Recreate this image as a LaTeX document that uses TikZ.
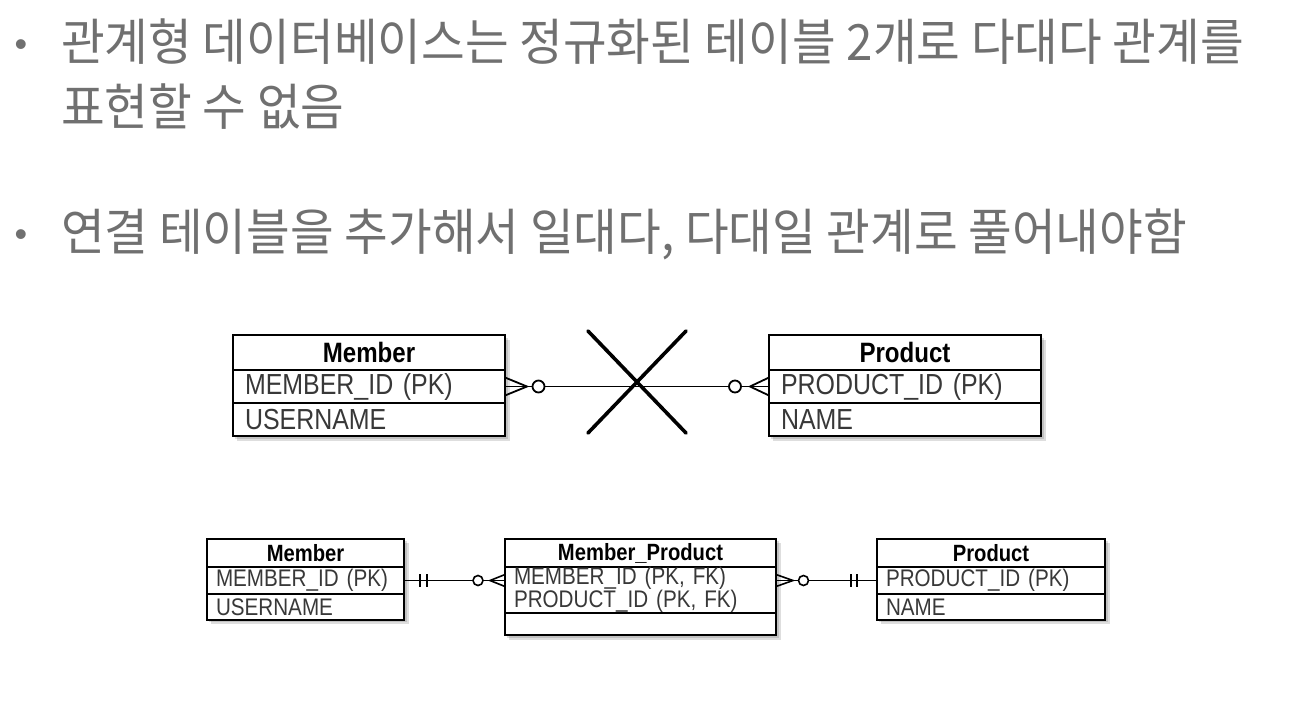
\documentclass[tikz,border=0pt]{standalone}
\usepackage{fontspec}
\setmainfont{Liberation Sans}
\newfontfamily\kor[FakeStretch=0.95]{Noto Sans CJK KR}
\newfontfamily\erd[FakeStretch=0.86]{Liberation Sans}
\usetikzlibrary{calc}
\definecolor{txtgray}{HTML}{707070}
\definecolor{rowtxt}{HTML}{383838}
\tikzset{
  kline/.style={anchor=base west, inner sep=0pt, font=\kor\fontsize{50}{64}\selectfont, text=txtgray},
  bul/.style={anchor=base, inner sep=0pt, font=\fontsize{36}{36}\selectfont, text=txtgray},
  tcell/.style={draw, line width=1.8pt, fill=white, inner ysep=0pt, inner xsep=12pt, outer sep=0pt,
    text width=248pt, anchor=north west, align=left, font=\erd\fontsize{29}{33}\selectfont, text=rowtxt},
  thdr/.style={tcell, align=center, font=\erd\bfseries\fontsize{28}{30}\selectfont, text=black},
  bcell/.style={draw, line width=1.6pt, fill=white, inner ysep=0pt, inner xsep=9pt, outer sep=0pt,
    anchor=north west, align=left, font=\erd\fontsize{24}{22}\selectfont, text=rowtxt},
  bhdr/.style={bcell, align=center, font=\erd\bfseries\fontsize{23.5}{26}\selectfont, text=black},
  tshadow/.style={fill=black, opacity=0.13},
  tconn/.style={line width=1.8pt, black},
  bconn/.style={line width=1.6pt, black},
  xline/.style={line width=3.6pt, black, line cap=round}
}
\begin{document}
\begin{tikzpicture}[x=1pt,y=-1pt]
\fill[white] (0,0) rectangle (1312,710);
\useasboundingbox (0,0) rectangle (1312,710);

% ---- bullet text ----
\node[bul] (b1) at (21,56) {•};
\node[kline] (t1) at (61,60) {관계형 데이터베이스는 정규화된 테이블 2개로 다대다 관계를};
\node[kline] (t2) at (61,125) {표현할 수 없음};
\node[bul] (b2) at (21,246) {•};
\node[kline] (t3) at (61,250) {연결 테이블을 추가해서 일대다, 다대일 관계로 풀어내야함};

% ---- top diagram ----
\fill[tshadow] (235,338) rectangle (508,439);
\fill[tshadow] (236.5,339.5) rectangle (509.5,440.5);
\fill[tshadow] (771,338) rectangle (1044,439);
\fill[tshadow] (772.5,339.5) rectangle (1045.5,440.5);

\node[thdr, minimum height=35pt] (m1h) at (233,335) {Member};
\node[tcell, minimum height=33pt] (m1r1) at (m1h.south west) {MEMBER\_ID (PK)};
\node[tcell, minimum height=33pt] (m1r2) at (m1r1.south west) {USERNAME};

\node[thdr, minimum height=35pt] (p1h) at (769,335) {Product};
\node[tcell, minimum height=33pt] (p1r1) at (p1h.south west) {PRODUCT\_ID (PK)};
\node[tcell, minimum height=33pt] (p1r2) at (p1r1.south west) {NAME};

\draw[tconn] (m1r1.east) -- (p1r1.west);
\draw[tconn] ($(m1r1.east)+(0,-9)$) -- ($(m1r1.east)+(22,0)$) -- ($(m1r1.east)+(0,9)$);
\draw[tconn, fill=white] ($(m1r1.east)+(33.5,0)$) circle[radius=6];
\draw[tconn] ($(p1r1.west)+(0,-9)$) -- ($(p1r1.west)+(-19,0)$) -- ($(p1r1.west)+(0,9)$);
\draw[tconn, fill=white] ($(p1r1.west)+(-34,0)$) circle[radius=6];

\draw[xline] (588,331) -- (686,433);
\draw[xline] (686,331) -- (588,433);

% ---- bottom diagram ----
\fill[tshadow] (209,541) rectangle (407,622);
\fill[tshadow] (210.5,542.5) rectangle (408.5,623.5);
\fill[tshadow] (507,541) rectangle (779,638);
\fill[tshadow] (508.5,542.5) rectangle (780.5,639.5);
\fill[tshadow] (879,541) rectangle (1108,622);
\fill[tshadow] (880.5,542.5) rectangle (1109.5,623.5);

\node[bhdr, text width=179pt, minimum height=28pt] (m2h) at (207,539) {Member};
\node[bcell, text width=179pt, minimum height=27pt] (m2r1) at (m2h.south west) {MEMBER\_ID (PK)};
\node[bcell, text width=179pt, minimum height=26pt] (m2r2) at (m2r1.south west) {USERNAME};

\node[bhdr, text width=253pt, minimum height=28pt] (mph) at (505,539) {Member\_Product};
\node[bcell, text width=253pt, minimum height=46pt] (mpr1) at (mph.south west) {MEMBER\_ID (PK, FK)\\PRODUCT\_ID (PK, FK)};
\node[bcell, text width=253pt, minimum height=22pt] (mpr2) at (mpr1.south west) {};

\node[bhdr, text width=210pt, minimum height=28pt] (p2h) at (877,539) {Product};
\node[bcell, text width=210pt, minimum height=27pt] (p2r1) at (p2h.south west) {PRODUCT\_ID (PK)};
\node[bcell, text width=210pt, minimum height=26pt] (p2r2) at (p2r1.south west) {NAME};

\coordinate (mpL) at (m2r1.east -| mpr1.west);
\coordinate (mpR) at (p2r1.west -| mpr1.east);

\draw[bconn] (m2r1.east) -- (mpL);
\draw[bconn] ($(m2r1.east)+(16,-6.5)$) -- ($(m2r1.east)+(16,6.5)$);
\draw[bconn] ($(m2r1.east)+(23,-6.5)$) -- ($(m2r1.east)+(23,6.5)$);
\draw[bconn] ($(mpL)+(0,-6)$) -- ($(mpL)+(-15,0)$) -- ($(mpL)+(0,6)$);
\draw[bconn, fill=white] ($(mpL)+(-27,0)$) circle[radius=5];

\draw[bconn] (p2r1.west) -- (mpR);
\draw[bconn] ($(mpR)+(0,-6)$) -- ($(mpR)+(17,0)$) -- ($(mpR)+(0,6)$);
\draw[bconn, fill=white] ($(mpR)+(27.5,0)$) circle[radius=5];
\draw[bconn] ($(p2r1.west)+(-26,-6.5)$) -- ($(p2r1.west)+(-26,6.5)$);
\draw[bconn] ($(p2r1.west)+(-20,-6.5)$) -- ($(p2r1.west)+(-20,6.5)$);
\end{tikzpicture}
\end{document}
